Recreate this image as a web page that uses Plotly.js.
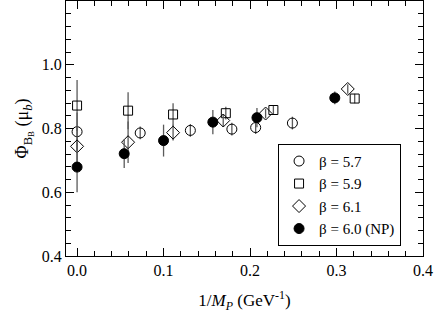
<!DOCTYPE html>
<html><head><meta charset="utf-8">
<script src="https://cdn.plot.ly/plotly-3.0.1.min.js"></script>
<style>html,body{margin:0;padding:0;background:#fff}#chart{width:436px;height:313px}</style>
</head><body><div id="chart"></div>
<script>
// beta = 5.7 (open circles)
const x57 = [0.0, 0.073, 0.131, 0.179, 0.2065, 0.249];
const y57 = [0.790, 0.786, 0.794, 0.798, 0.803, 0.817];
const e57 = [0.06, 0.02, 0.02, 0.02, 0.02, 0.02];
// beta = 5.9 (open squares)
const x59 = [0.0, 0.059, 0.111, 0.172, 0.227, 0.321];
const y59 = [0.872, 0.856, 0.844, 0.848, 0.858, 0.894];
const e59 = [0.08, 0.058, 0.035, 0.02, 0.015, 0.015];
// beta = 6.1 (open diamonds)
const x61 = [0.0, 0.059, 0.111, 0.169, 0.218, 0.313];
const y61 = [0.744, 0.757, 0.787, 0.825, 0.847, 0.924];
const e61 = [0.06, 0.065, 0.025, 0.02, 0.015, 0.015];
// beta = 6.0 (NP) (filled circles)
const x60 = [0.0, 0.0545, 0.100, 0.157, 0.208, 0.298];
const y60 = [0.679, 0.721, 0.762, 0.820, 0.834, 0.896];
const e60 = [0.079, 0.045, 0.05, 0.038, 0.03, 0.02];

const names = ['β = 5.7', 'β = 5.9', 'β = 6.1', 'β = 6.0 (NP)'];
const xTickVals = [0.0, 0.1, 0.2, 0.3, 0.4];
const xTickText = ['0.0', '0.1', '0.2', '0.3', '0.4'];
const yTickVals = [0.4, 0.6, 0.8, 1.0];
const yTickText = ['0.4', '0.6', '0.8', '1.0'];

const ebColor = 'rgb(90,90,90)';
function tr(x, y, e, name, symbol, size) {
  return {
    x: x, y: y, name: name, type: 'scatter', mode: 'markers',
    marker: {symbol: symbol, size: size, color: 'black', line: {color: 'black', width: 1}},
    error_y: {type: 'data', array: e, visible: true, color: ebColor, thickness: 1.3, width: 0},
    cliponaxis: false
  };
}
const data = [
  tr(x57, y57, e57, names[0], 'circle-open', 10),
  tr(x59, y59, e59, names[1], 'square-open', 9),
  tr(x61, y61, e61, names[2], 'diamond-open', 10),
  tr(x60, y60, e60, names[3], 'circle', 10)
];
const fam = 'Liberation Serif';
function mk(size) { return {family: fam, size: size, color: 'black'}; }
function axisCommon() {
  return {
    showline: true, linecolor: 'black', linewidth: 1, mirror: 'ticks',
    ticks: 'inside', ticklen: 8, tickcolor: 'black', tickwidth: 1,
    showgrid: false, zeroline: false, tickfont: mk(16)
  };
}
const layout = {
  width: 436, height: 313,
  margin: {l: 66, r: 13, t: 1, b: 57},
  paper_bgcolor: 'white', plot_bgcolor: 'white',
  font: mk(16),
  showlegend: true,
  legend: {x: 0.594, y: 0.44, xanchor: 'left', yanchor: 'top',
           bordercolor: 'black', borderwidth: 1, bgcolor: 'white',
           font: mk(15), tracegroupgap: 0, itemwidth: 30},
  xaxis: Object.assign(axisCommon(), {
    range: [-0.0128, 0.4], tickmode: 'array', tickvals: xTickVals, ticktext: xTickText,
    minor: {tickmode: 'linear', tick0: 0, dtick: 0.02, ticks: 'inside', ticklen: 5, tickcolor: 'black'},
    title: {text: '1/<i>M</i><sub><i>P</i></sub> (GeV<sup>-1</sup>)', font: mk(17), standoff: 16}
  }),
  yaxis: Object.assign(axisCommon(), {
    range: [0.4, 1.2], tickmode: 'array', tickvals: yTickVals, ticktext: yTickText,
    minor: {tickmode: 'linear', tick0: 0.4, dtick: 0.04, ticks: 'inside', ticklen: 5, tickcolor: 'black'},
    title: {text: 'Φ<sub>B<sub>B</sub></sub> (μ<sub><i>b</i></sub>)', font: mk(18), standoff: 8}
  })
};
Plotly.newPlot('chart', data, layout, {displayModeBar: false, staticPlot: true});
</script></body></html>
